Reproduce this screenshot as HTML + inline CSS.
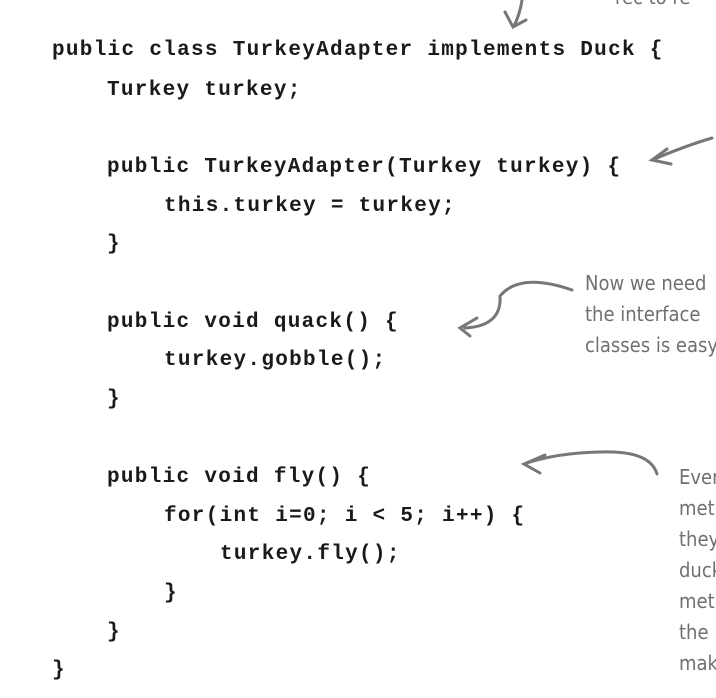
<!DOCTYPE html>
<html><head><style>
body{margin:0;width:716px;height:698px;background:#fff;overflow:hidden;position:relative}
.c{position:absolute;font-family:"Liberation Mono",monospace;font-weight:bold;font-size:21px;letter-spacing:1.3px;color:#1a1a1a;white-space:pre;line-height:24px;margin-top:2px}
.n{position:absolute;font-family:"DejaVu Sans Condensed","Liberation Sans",sans-serif;font-size:20px;color:#707070;white-space:pre;line-height:31px}
</style></head><body>
<div class="c" style="left:52px;top:37px">public class TurkeyAdapter implements Duck {</div>
<div class="c" style="left:107px;top:77px">Turkey turkey;</div>
<div class="c" style="left:107px;top:154px">public TurkeyAdapter(Turkey turkey) {</div>
<div class="c" style="left:164px;top:193px">this.turkey = turkey;</div>
<div class="c" style="left:107px;top:231px">}</div>
<div class="c" style="left:107px;top:309px">public void quack() {</div>
<div class="c" style="left:164px;top:347px">turkey.gobble();</div>
<div class="c" style="left:107px;top:386px">}</div>
<div class="c" style="left:107px;top:464px">public void fly() {</div>
<div class="c" style="left:164px;top:503px">for(int i=0; i &lt; 5; i++) {</div>
<div class="c" style="left:220px;top:541px">turkey.fly();</div>
<div class="c" style="left:164px;top:580px">}</div>
<div class="c" style="left:107px;top:619px">}</div>
<div class="c" style="left:52px;top:657px">}</div>
<div class="n" style="left:585px;top:268px">Now we need
the interface
classes is easy</div>
<div class="n" style="left:679px;top:462px">Even
met
they
duck
met
the
mak</div>
<div class="n" style="left:615px;top:-18px">rec to re</div>
<svg width="716" height="698" style="position:absolute;left:0;top:0" fill="none" stroke="#777" stroke-width="3" stroke-linecap="round">
<path d="M522 0 Q520 14 514 26"/><path d="M505 12 L513 27 L526 20"/>
<path d="M712 138 Q685 146 652 160"/><path d="M667 149 L652 160 L671 164"/>
<path d="M572 290 Q520 272 500 296 Q502 326 465 328"/><path d="M477 318 L460 328 L470 336"/>
<path d="M657 474 Q650 450 600 452 Q555 453 524 464"/><path d="M545 455 L524 464 L540 473"/>
</svg>
</body></html>
